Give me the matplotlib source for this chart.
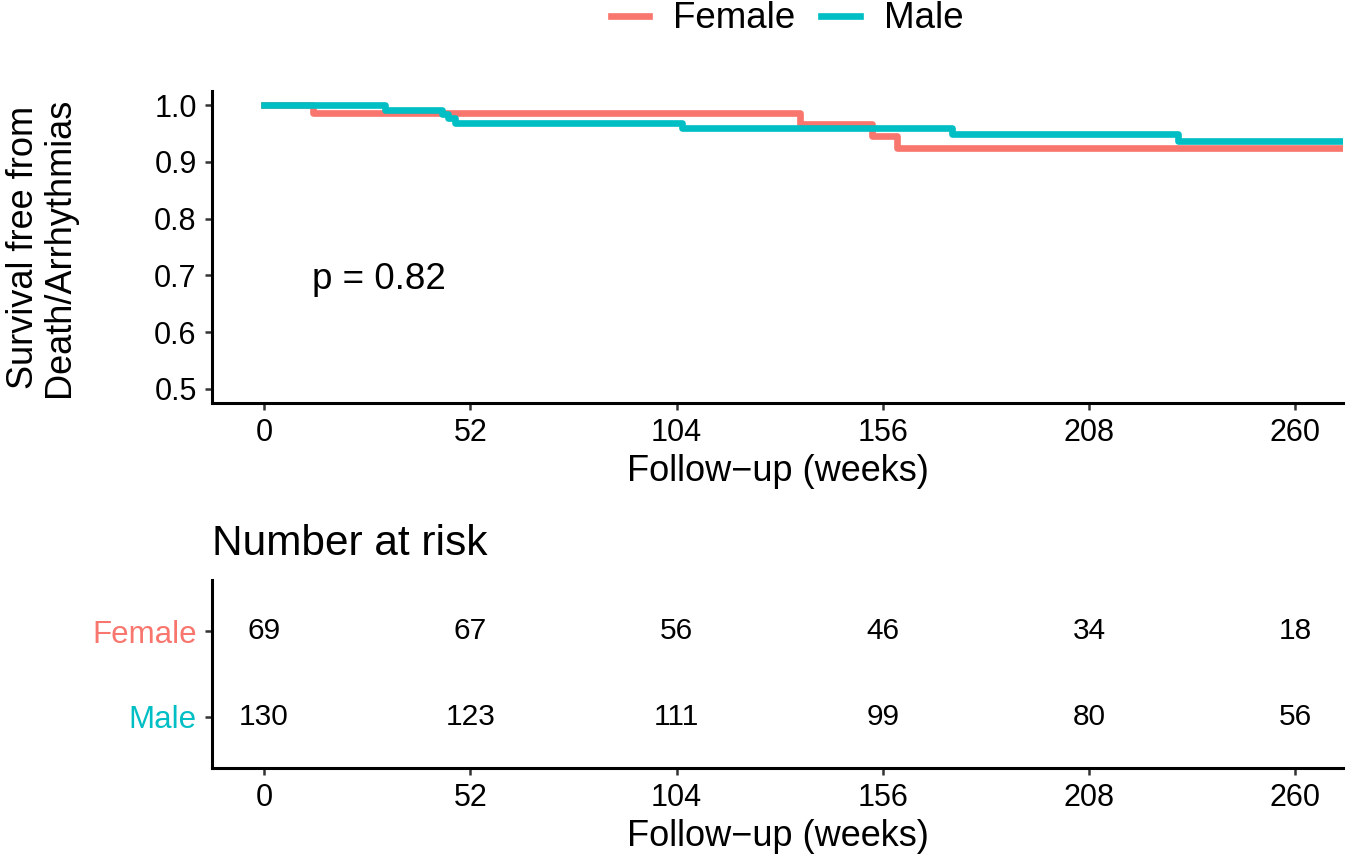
import matplotlib
matplotlib.use("Agg")
import matplotlib.pyplot as plt

plt.rcParams["font.family"] = ["Liberation Sans", "DejaVu Sans"]

# Kaplan-Meier step data (weeks, survival)
female_times = [0, 12.35, 135.1, 153.2, 159.5, 275]
female_surv = [1.0, 0.9855, 0.966, 0.9455, 0.9245, 0.9245]
male_times = [0, 30.5, 44.8, 46.4, 48.1, 105.5, 173.4, 230.3, 275]
male_surv = [1.0, 0.9923, 0.9844, 0.9766, 0.9688, 0.960, 0.950, 0.9365, 0.9365]

groups = ["Female", "Male"]
colors = {"Female": "#F8766D", "Male": "#00BFC4"}

risk_times = [0, 52, 104, 156, 208, 260]
female_risk = [69, 67, 56, 46, 34, 18]
male_risk = [130, 123, 111, 99, 80, 56]

p_text = "p = 0.82"
xlabel = "Follow\u2212up (weeks)"
ylabel = "Survival free from\nDeath/Arrhythmias"

W, H = 1350, 861
fig = plt.figure(figsize=(W / 100, H / 100), dpi=100)

def frac(left, top, right, bottom):
    return [left / W, 1 - bottom / H, (right - left) / W, (bottom - top) / H]

ax = fig.add_axes(frac(212, 91, 1343, 403))
ax_r = fig.add_axes(frac(212, 580, 1343, 768))

def style(a):
    for s in ["top", "right"]:
        a.spines[s].set_visible(False)
    for s in ["left", "bottom"]:
        a.spines[s].set_linewidth(2.2)
    a.tick_params(direction="out", length=5, width=1.8, color="#333333",
                  labelsize=22, pad=6)
    a.set_xlim(-13.1, 272)
    a.set_xticks(risk_times)

style(ax)
style(ax_r)

ax.step(female_times, female_surv, where="post", color=colors["Female"],
        lw=4.8, label="Female")
ax.step(male_times, male_surv, where="post", color=colors["Male"],
        lw=4.8, label="Male")
ax.set_ylim(0.475, 1.025)
ax.set_yticks([0.5, 0.6, 0.7, 0.8, 0.9, 1.0])
ax.set_yticklabels(["0.5", "0.6", "0.7", "0.8", "0.9", "1.0"])
ax.text(12, 0.693, p_text, fontsize=26.5, ha="left", va="center")
ax.set_xlabel(xlabel, fontsize=26, labelpad=4)
ax.set_ylabel(ylabel, fontsize=26, linespacing=1.05)
ax.yaxis.set_label_coords(-0.119, 0.5)

fig.legend(loc="center", bbox_to_anchor=(787 / W, 1 - 19 / H), ncol=2,
           frameon=False, fontsize=26.5, handlelength=1.05, handletextpad=0.65,
           columnspacing=0.7)

# risk table
rows = {"Female": 2, "Male": 1}
for g, vals in zip(groups, [female_risk, male_risk]):
    for t, v in zip(risk_times, vals):
        ax_r.text(t, rows[g], str(v), ha="center", va="center", fontsize=21.5)
ax_r.set_ylim(0.4, 2.6)
ax_r.set_yticks([rows[g] for g in groups])
ax_r.set_yticklabels(groups, fontsize=22.5)
for lab, g in zip(ax_r.get_yticklabels(), groups):
    lab.set_color(colors[g])
ax_r.set_xlabel(xlabel, fontsize=26, labelpad=4)
ax_r.text(0.0, 1.133, "Number at risk", transform=ax_r.transAxes,
          fontsize=30.5, ha="left", va="baseline")

fig.savefig("out.png", dpi=100)
